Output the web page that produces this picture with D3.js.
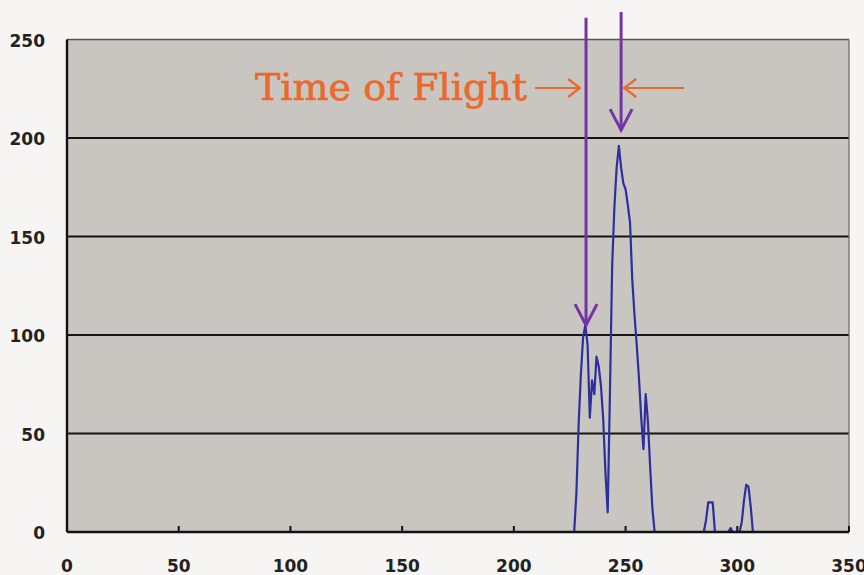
<!DOCTYPE html>
<html>
<head>
<meta charset="utf-8">
<script src="https://cdn.jsdelivr.net/npm/d3@7"></script>
<style>
  html, body { margin: 0; padding: 0; background: #f6f5f3; }
  svg { display: block; }
</style>
</head>
<body>
<svg id="chart" width="864" height="575"></svg>
<script>
// Detector channel (time bins) and recorded counts
const channels = [
  220, 221, 222, 223, 224, 225, 226, 227, 228, 229,
  230, 231, 232, 233, 234, 235, 236, 237, 238, 239,
  240, 241, 242, 243, 244, 245, 246, 247, 248, 249,
  250, 251, 252, 253, 254, 255, 256, 257, 258, 259,
  260, 261, 262, 263, 264, 270, 280, 285, 286, 287,
  288, 289, 290, 295, 296, 297, 298, 299, 300, 301,
  302, 303, 304, 305, 306, 307, 308, 310
];
const counts = [
    0,   0,   0,   0,   0,   0,   0,   0,  20,  55,
   80,  99, 105,  95,  58,  77,  70,  89,  84,  74,
   57,  30,  10,  70, 135, 165, 185, 196, 185, 177,
  174, 166, 157, 128, 110,  95,  78,  58,  42,  70,
   56,  33,  12,   0,   0,   0,   0,   0,   6,  15,
   15,  15,   0,   0,   0,   2,   0,   0,   0,   0,
    5,  16,  24,  23,  13,   0,   0,   0
];

// Axis ticks
const xTicks = [0, 50, 100, 150, 200, 250, 300, 350];
const yTicks = [0, 50, 100, 150, 200, 250];

// Annotation: the two peaks the flight time is measured between
const peakChannels = [232.3, 248.0];
const peakTips = [105, 204];
const arrowTops = [261, 264];
const labelText = "Time of Flight";

const svg = d3.select("#chart");
const x = d3.scaleLinear().domain([0, 350]).range([67, 849]);
const y = d3.scaleLinear().domain([0, 250]).range([532, 39.5]);

// Plot background
svg.append("rect")
  .attr("x", x(0)).attr("y", y(250))
  .attr("width", x(350) - x(0)).attr("height", y(0) - y(250))
  .attr("fill", "#c9c6c2");

// Horizontal gridlines
svg.append("g").selectAll("line")
  .data(yTicks.filter(v => v > 0 && v < 250))
  .join("line")
  .attr("x1", x(0)).attr("x2", x(350))
  .attr("y1", d => y(d)).attr("y2", d => y(d))
  .attr("stroke", "#141414").attr("stroke-width", 2);

// Top and right frame
svg.append("line")
  .attr("x1", x(0)).attr("x2", x(350)).attr("y1", y(250)).attr("y2", y(250))
  .attr("stroke", "#555").attr("stroke-width", 1.5);
svg.append("line")
  .attr("x1", x(350)).attr("x2", x(350)).attr("y1", y(250)).attr("y2", y(0))
  .attr("stroke", "#666").attr("stroke-width", 1.2);

// Signal trace
const series = channels.map((c, i) => [c, counts[i]]);
svg.append("path")
  .datum(series)
  .attr("fill", "none")
  .attr("stroke", "#2d2f9c")
  .attr("stroke-width", 2.2)
  .attr("stroke-linejoin", "round")
  .attr("d", d3.line().x(d => x(d[0])).y(d => y(d[1])));

const tickFont = sel => sel
  .attr("font-family", "'DejaVu Sans', sans-serif")
  .attr("font-weight", "bold")
  .attr("font-size", 17)
  .attr("fill", "#222");

// X axis: inward ticks, labels below
const xAxis = svg.append("g")
  .attr("transform", `translate(0,${y(0)})`)
  .call(d3.axisBottom(x).offset(0).tickValues(xTicks)
    .tickSize(-6).tickSizeOuter(0).tickPadding(28));
xAxis.select(".domain").attr("stroke", "#111").attr("stroke-width", 2.4);
xAxis.selectAll(".tick line").attr("stroke", "#111").attr("stroke-width", 2);
xAxis.selectAll(".tick text").call(tickFont);

// Y axis: labels only, with the left spine
const yAxis = svg.append("g")
  .attr("transform", `translate(${x(0)},0)`)
  .call(d3.axisLeft(y).offset(0).tickValues(yTicks)
    .tickSize(0).tickSizeOuter(0).tickPadding(22));
yAxis.select(".domain").attr("stroke", "#111").attr("stroke-width", 2.4);
yAxis.selectAll(".tick text").call(tickFont).attr("dy", "0.42em");

// Purple arrows marking the two peaks
const purple = "#7434a6";
const ann = svg.append("g");
peakChannels.forEach((c, i) => {
  const px = x(c), tip = y(peakTips[i]), top = y(arrowTops[i]);
  ann.append("line")
    .attr("x1", px).attr("x2", px).attr("y1", top).attr("y2", tip)
    .attr("stroke", purple).attr("stroke-width", 3);
  ann.append("path")
    .attr("d", `M${px - 11},${tip - 21} L${px},${tip} L${px + 11},${tip - 21}`)
    .attr("fill", "none").attr("stroke", purple).attr("stroke-width", 3)
    .attr("stroke-linejoin", "miter");
});

// Orange label with arrows pointing at the two markers
const orange = "#ea6a2c";
const labelY = 100;
ann.append("text")
  .attr("x", 255).attr("y", labelY)
  .attr("font-family", "'DejaVu Serif', serif")
  .attr("font-size", 38)
  .attr("fill", orange)
  .attr("stroke", orange)
  .attr("stroke-width", 0.7)
  .attr("textLength", 272)
  .attr("lengthAdjust", "spacingAndGlyphs")
  .text(labelText);

const arrowY = 88;
const leftTip = x(peakChannels[0]) - 6;
const rightTip = x(peakChannels[1]) + 3;
ann.append("line")
  .attr("x1", leftTip - 45).attr("x2", leftTip).attr("y1", arrowY).attr("y2", arrowY)
  .attr("stroke", orange).attr("stroke-width", 2.2);
ann.append("path")
  .attr("d", `M${leftTip - 12},${arrowY - 9} L${leftTip},${arrowY} L${leftTip - 12},${arrowY + 9}`)
  .attr("fill", "none").attr("stroke", orange).attr("stroke-width", 2.2);
ann.append("line")
  .attr("x1", rightTip).attr("x2", rightTip + 60).attr("y1", arrowY).attr("y2", arrowY)
  .attr("stroke", orange).attr("stroke-width", 2.2);
ann.append("path")
  .attr("d", `M${rightTip + 12},${arrowY - 9} L${rightTip},${arrowY} L${rightTip + 12},${arrowY + 9}`)
  .attr("fill", "none").attr("stroke", orange).attr("stroke-width", 2.2);
</script>
</body>
</html>
